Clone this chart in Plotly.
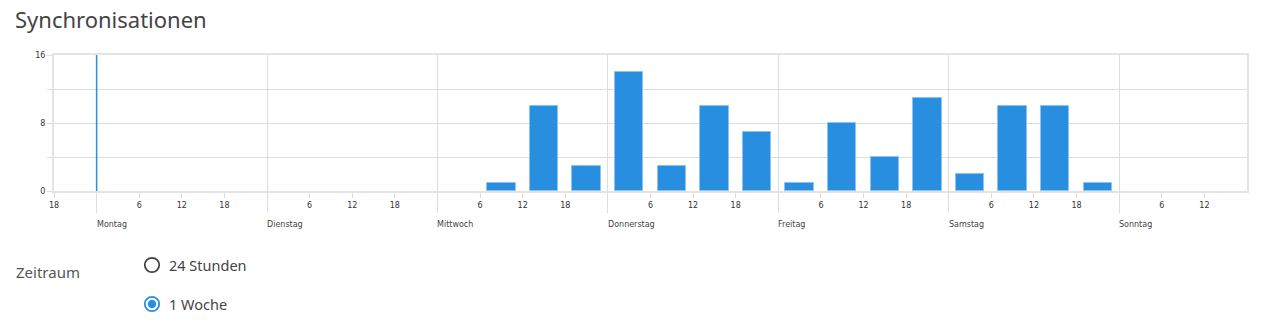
import plotly.graph_objects as go

# ---- data ----
day_names = ["Montag", "Dienstag", "Mittwoch", "Donnerstag", "Freitag", "Samstag", "Sonntag"]
# 6-hour bins, hour offset from Monday 00:00 (bin start)
bin_start_hours = [54, 60, 66,
                   72, 78, 84, 90,
                   96, 102, 108, 114,
                   120, 126, 132, 138]
sync_counts = [1, 10, 3,
               14, 3, 10, 7,
               1, 8, 4, 11,
               2, 10, 10, 1]
hour_tick_labels = ["6", "12", "18"]
marker_hour = 0
y_ticks = [0, 8, 16]
x_range = [-6, 162]
y_range = [0, 16]

BIN = 6
BAR_W = 4
BLUE = "#288ee0"
GRID = "#dddddd"
TXT = "#444444"

W, H = 1265, 330
L, R, T, B = 54, 18, 55, 139
pw, ph = W - L - R, H - T - B


def px_x(px):
    return (px - L) / pw


def px_y(py):
    return (H - B - py) / ph


fig = go.Figure()
fig.add_trace(go.Bar(
    x=[s + BIN / 2 for s in bin_start_hours],
    y=sync_counts,
    width=BAR_W,
    marker=dict(color=BLUE, line=dict(color="#8cc3f0", width=1)),
    hoverinfo="y",
))

# hour ticks
tickvals = [-6]
ticktext = ["18"]
for d in range(len(day_names)):
    for lab in hour_tick_labels:
        v = d * 24 + int(lab)
        if v < x_range[1]:
            tickvals.append(v)
            ticktext.append(lab)
day_vals = [d * 24 for d in range(len(day_names))]

fig.update_xaxes(
    range=x_range, tickmode="array", tickvals=tickvals, ticktext=ticktext,
    ticks="outside", ticklen=5, tickcolor=GRID, tickwidth=1,
    showgrid=False, zeroline=False,
    showline=True, mirror=True, linecolor="#e3e3e3", linewidth=2,
    tickfont=dict(family="DejaVu Sans", size=8, color="#333"),
    minor=dict(tickmode="array", tickvals=day_vals, ticks="outside", ticklen=20,
               tickcolor=GRID, tickwidth=1, showgrid=True, gridcolor=GRID, gridwidth=1),
)
fig.update_yaxes(
    range=y_range, tickmode="array", tickvals=y_ticks,
    ticks="outside", ticklen=5, tickcolor=GRID,
    showgrid=True, gridcolor=GRID, gridwidth=1, zeroline=False,
    showline=True, mirror=True, linecolor="#e3e3e3", linewidth=2,
    tickfont=dict(family="DejaVu Sans", size=8, color="#333"),
    minor=dict(tickmode="array", tickvals=[4, 12], ticks="outside", ticklen=5,
               tickcolor=GRID, showgrid=True, gridcolor=GRID, gridwidth=1),
)

# marker line at week start
fig.add_shape(type="line", xref="x", yref="paper", x0=marker_hour, x1=marker_hour,
              y0=0, y1=1, line=dict(color=BLUE, width=1.5))

annotations = []
for d, name in enumerate(day_names):
    annotations.append(dict(x=d * 24, y=px_y(224), xref="x", yref="paper", text=name,
                            showarrow=False, xanchor="left", yanchor="middle", xshift=-2,
                            font=dict(family="DejaVu Sans", size=8, color="#444")))

annotations += [
    dict(x=px_x(15), y=px_y(19), xref="paper", yref="paper", text="Synchronisationen",
         showarrow=False, xanchor="left", yanchor="middle", xshift=-2,
         font=dict(family="Noto Sans", size=22, color=TXT)),
    dict(x=px_x(15), y=px_y(272), xref="paper", yref="paper", text="Zeitraum",
         showarrow=False, xanchor="left", yanchor="middle", xshift=-1,
         font=dict(family="Noto Sans", size=15, color="#555")),
    dict(x=px_x(167), y=px_y(265), xref="paper", yref="paper", text="24 Stunden",
         showarrow=False, xanchor="left", yanchor="middle",
         font=dict(family="Noto Sans", size=14.5, color=TXT)),
    dict(x=px_x(167), y=px_y(304), xref="paper", yref="paper", text="1 Woche",
         showarrow=False, xanchor="left", yanchor="middle",
         font=dict(family="Noto Sans", size=14.5, color=TXT)),
]


def circle(cx, cy, r, **kw):
    fig.add_shape(type="circle", xref="paper", yref="paper",
                  x0=px_x(cx - r), x1=px_x(cx + r), y0=px_y(cy + r), y1=px_y(cy - r), **kw)


circle(152, 265, 7.2, line=dict(color="#444", width=1.8), fillcolor="white")
circle(152, 304, 7.2, line=dict(color=BLUE, width=1.8), fillcolor="white")
circle(152, 304, 4.2, line=dict(color=BLUE, width=0), fillcolor=BLUE)

fig.update_layout(
    width=W, height=H, margin=dict(l=L, r=R, t=T, b=B),
    paper_bgcolor="white", plot_bgcolor="white",
    showlegend=False, bargap=0, annotations=annotations,
)

fig.write_html("out.html")
